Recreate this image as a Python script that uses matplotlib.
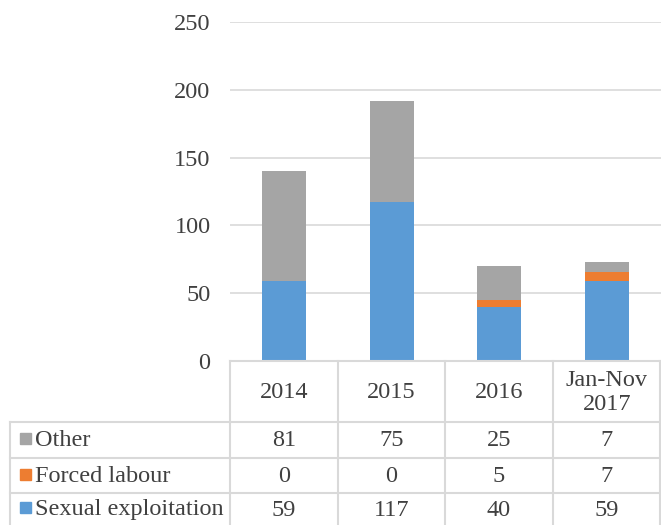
import matplotlib
matplotlib.use("Agg")
import matplotlib.pyplot as plt
from matplotlib.patches import Rectangle
from matplotlib.lines import Line2D

categories = ["2014", "2015", "2016", "Jan-Nov\n2017"]
series_names = ["Other", "Forced labour", "Sexual exploitation"]
other = [81, 75, 25, 7]
forced = [0, 0, 5, 7]
sexual = [59, 117, 40, 59]
yticks = [0, 50, 100, 150, 200, 250]

colors = {"Sexual exploitation": "#5B9BD5", "Forced labour": "#ED7D31", "Other": "#A5A5A5"}
text_color = "#404040"
grid_color = "#D9D9D9"

plt.rcParams["font.family"] = ["Liberation Serif", "DejaVu Serif"]
W, H = 661, 525
fig = plt.figure(figsize=(W / 100, H / 100), dpi=100)

def fx(px):
    return px / W

def fy(py):
    return 1 - py / H

fs = 17.5

ax_left, ax_right, ax_top, ax_bot = 230, 661, 22, 361
ax = fig.add_axes([fx(ax_left), fy(ax_bot), fx(ax_right - ax_left), (ax_bot - ax_top) / H])

x = list(range(len(categories)))
bw = 0.41
ax.bar(x, sexual, bw, color=colors["Sexual exploitation"], zorder=3)
bottom2 = sexual
ax.bar(x, forced, bw, bottom=bottom2, color=colors["Forced labour"], zorder=3)
bottom3 = [a + b for a, b in zip(sexual, forced)]
ax.bar(x, other, bw, bottom=bottom3, color=colors["Other"], zorder=3)

ax.set_xlim(-0.5, len(categories) - 0.5)
ax.set_ylim(0, 250)
ax.set_yticks(yticks)
ax.set_yticklabels([str(t) for t in yticks], fontsize=fs, color=text_color)
ax.tick_params(axis="y", length=0, pad=14)
ax.set_xticks([])
ax.grid(axis="y", color=grid_color, linewidth=1.2, zorder=0)
for s in ax.spines.values():
    s.set_visible(False)

# Table
col_edges = [230, 338, 445, 553, 661]
row_edges = [361, 422, 458, 493, 525]
left_edge = 10
lw = 1.5

def hline(y, x0, x1):
    fig.add_artist(Line2D([fx(x0), fx(x1)], [fy(y), fy(y)], color=grid_color, lw=lw))

def vline(x, y0, y1):
    fig.add_artist(Line2D([fx(x), fx(x)], [fy(y0), fy(y1)], color=grid_color, lw=lw))

hline(row_edges[0], col_edges[0], col_edges[-1])
for y in row_edges[1:4]:
    hline(y, left_edge, col_edges[-1])
for xe in col_edges[:-1]:
    vline(xe, row_edges[0], row_edges[-1])
vline(col_edges[-1] - 1, row_edges[0], row_edges[-1])
vline(left_edge, row_edges[1], row_edges[-1])

for i, c in enumerate(categories):
    cx = (col_edges[i] + col_edges[i + 1]) / 2
    cy = (row_edges[0] + row_edges[1]) / 2 + 1
    fig.text(fx(cx), fy(cy), c, ha="center", va="center", fontsize=fs, color=text_color,
             linespacing=1.15)

rows = [("Other", other), ("Forced labour", forced), ("Sexual exploitation", sexual)]
for r, (name, vals) in enumerate(rows):
    cy = (row_edges[r + 1] + row_edges[r + 2]) / 2 + 1
    fig.add_artist(Rectangle((fx(20), fy(cy + 3)), fx(11), 11 / H, color=colors[name],
                             transform=fig.transFigure))
    fig.text(fx(35), fy(cy), name, ha="left", va="center", fontsize=fs, color=text_color)
    for i, v in enumerate(vals):
        cx = (col_edges[i] + col_edges[i + 1]) / 2
        fig.text(fx(cx), fy(cy), str(v), ha="center", va="center", fontsize=fs, color=text_color)

fig.savefig("out.png", dpi=100)
